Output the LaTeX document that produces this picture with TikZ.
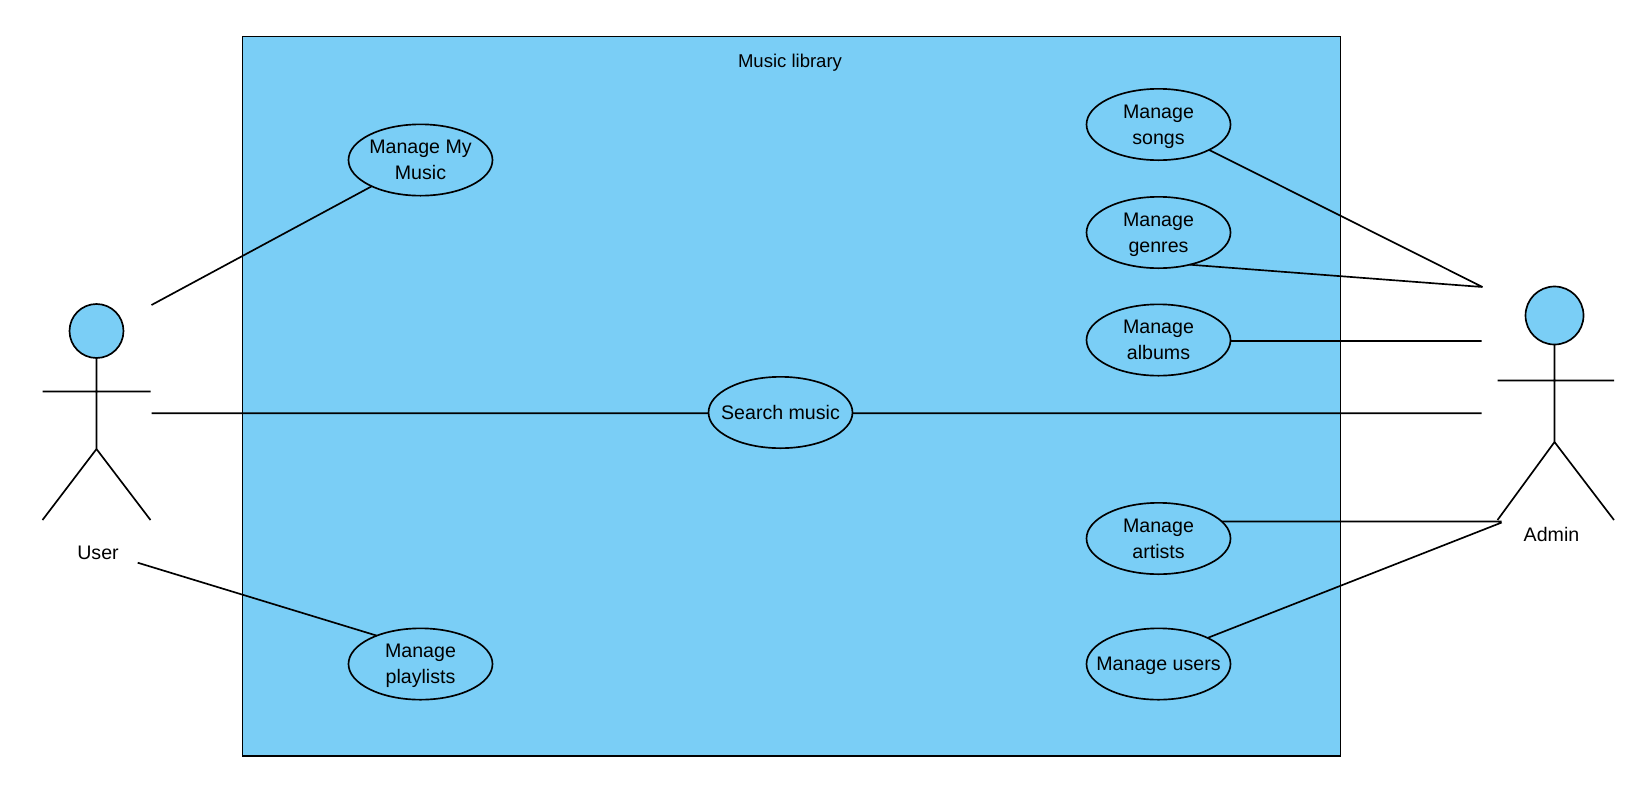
\documentclass[tikz,border=0pt]{standalone}
\usepackage{fontspec}
\setmainfont{Liberation Sans}
\usetikzlibrary{shapes.geometric}
\definecolor{lightblue}{HTML}{7ACEF6}
\begin{document}
\begin{tikzpicture}[x=.75pt,y=-.75pt,line width=1.25pt,
    every node/.style={font=\fontsize{14.7}{19.5}\selectfont,align=center,outer sep=0pt},
    usecase/.style={ellipse,draw,inner sep=-10pt,minimum width=108pt,minimum height=53.5pt,
      text height=34.75pt,text depth=5.25pt},
    oneline/.style={usecase,text height=15.8pt,text depth=5.85pt},
    head/.style={circle,draw,fill=lightblue,inner sep=0pt}]
      \useasboundingbox (0,0) rectangle (1651,793);
      \draw[fill=lightblue] (242.5,36.5) rectangle (1340.5,756);
      \draw
        (790,63) node[font=\fontsize{13.9}{19.5}\selectfont] (title) {Music library}
        (420.5,160) node[usecase] (music) {Manage My\\Music}
        (420.5,664) node[usecase] (playlists) {Manage\\playlists}
        (780.5,412.5) node[oneline] (search) {Search music}
        (1158.5,124.5) node[usecase] (songs) {Manage\\songs}
        (1158.5,232.5) node[usecase] (genres) {Manage\\genres}
        (1158.5,340) node[usecase] (albums) {Manage\\albums}
        (1158.5,538.5) node[usecase] (artists) {Manage\\artists}
        (1158.5,664) node[oneline] (users) {Manage users};
      % actors
      \draw
        (96.5,331) node[head,minimum size=40.5pt] (userhead) {}
        (98,553) node (userlabel) {User}
        (1554.5,315.5) node[head,minimum size=43.5pt] (adminhead) {}
        (1551.5,534) node (adminlabel) {Admin};
      \coordinate (userhip) at (96.5,449);
      \coordinate (adminhip) at (1554.5,442);
      \draw
        (userhead) -- (userhip)
        (42.5,391.5) -- (150.5,391.5)
        (42.5,520) -- (userhip) -- (150.5,520)
        (adminhead) -- (adminhip)
        (1497.5,380.5) -- (1614,380.5)
        (1497.5,520) -- (adminhip) -- (1614,520);
      % free ends of the connectors
      \coordinate (utop) at (151.5,305);
      \coordinate (umid) at (151.5,413.3);
      \coordinate (ulow) at (137.7,562.7);
      \coordinate (atop) at (1482.5,287);
      \coordinate (aalb) at (1481.5,341);
      \coordinate (amid) at (1481.5,413.3);
      \coordinate (aart) at (1501.7,521.7);
      \coordinate (ausr) at (1501.7,522.5);
      \draw
        (utop) -- (music)
        (umid) -- (umid -| search.west)
        (ulow) -- (playlists.147)
        (songs) -- (atop)
        (genres.-46) -- (atop)
        (albums.east |- aalb) -- (aalb)
        (amid -| search.east) -- (amid)
        (artists.15) -- (artists.15 -| aart)
        (users.28) -- (ausr);
    \end{tikzpicture}
\end{document}
